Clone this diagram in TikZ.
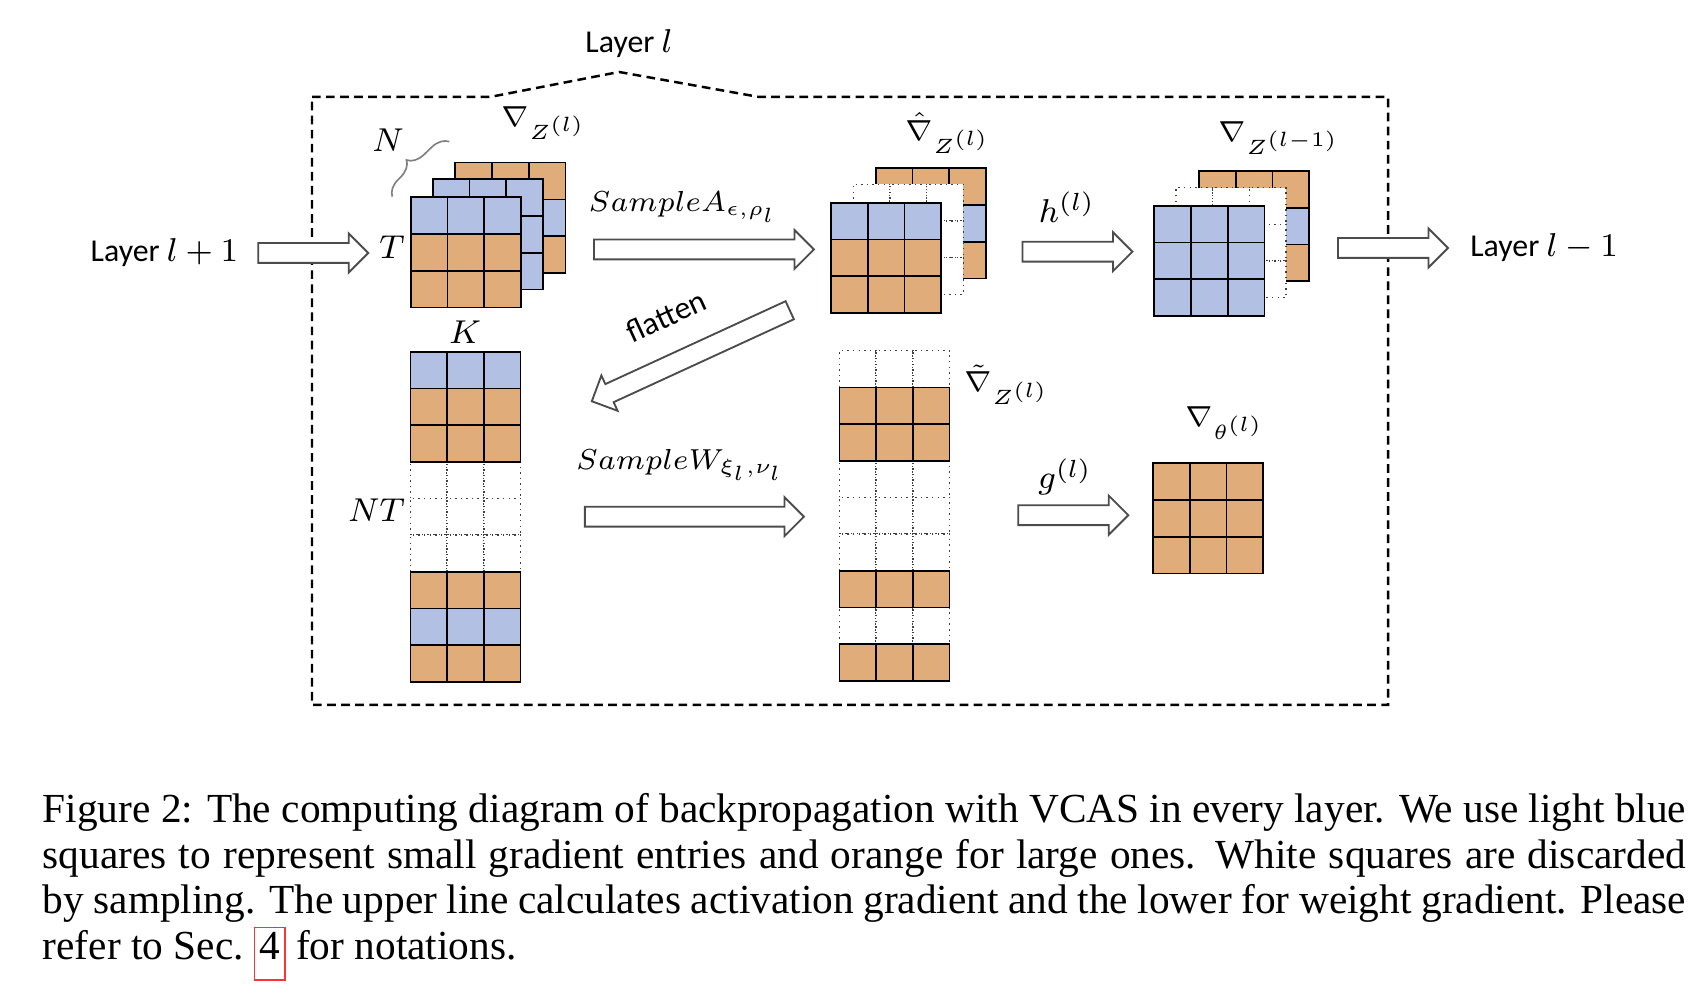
\documentclass[tikz,border=0pt]{standalone}
\usepackage{fontspec}
\setmainfont{Liberation Serif}
\newfontfamily\calibri{Carlito}
\usetikzlibrary{positioning, shapes.arrows, decorations.pathreplacing, calc}

\definecolor{smallblue}{RGB}{178,193,227}
\definecolor{largeorange}{RGB}{224,172,122}

\newcommand{\cw}{36.7}
% a grid three cells wide: name, north west corner, kind of each row
\newcommand{\cellgrid}[3]{%
  \coordinate (#1) at #2;
  \foreach \kind [count=\rowno] in {#3}
    \foreach \colno in {0,1,2}
      \path[cell\kind] ($(#1)+(\colno*\cw,-\rowno*\cw)$) rectangle ++(\cw,\cw);
  \foreach \kind [count=\rowno] in {#3}
    \foreach \colno in {0,1,2}
      \path[edge\kind] ($(#1)+(\colno*\cw,-\rowno*\cw)$) rectangle ++(\cw,\cw);
}
\newcommand{\secbox}[1]{{\fboxsep=1pt\fboxrule=0.35pt\fcolorbox{red!80}{white}{\rule[-3.8pt]{0pt}{6.5pt}#1}}}

\tikzset{
  cello/.style={fill=largeorange},
  cellb/.style={fill=smallblue},
  cellw/.style={fill=white, draw=black!75, densely dotted, line width=0.35pt},
  edgeo/.style={draw=black, line width=0.4pt},
  edgeb/.style={draw=black, line width=0.4pt},
  edgew/.style={}
}

\begin{document}
\begin{tikzpicture}[
    x=0.2419pt, y=0.2419pt,
    txt/.style={font=\calibri\fontsize{7.7}{9}\selectfont, inner sep=1pt},
    lbl/.style={font=\fontsize{8}{10}\selectfont, inner sep=1pt},
    grad/.style={font=\fontsize{7}{9}\selectfont, inner sep=0pt, anchor=west},
    fat/.style={single arrow, draw=black!70, fill=white, line width=0.45pt, inner xsep=0pt, inner ysep=2.18pt,
        single arrow head extend=2.3pt, minimum height=26.6pt},
    frame/.style={line width=0.6pt, dash pattern=on 2.1pt off 1.3pt},
    caption/.style={text width=397.5pt, align=justify, font=\fontsize{10}{11}\selectfont, inner sep=0pt}
]
\useasboundingbox (0,0) rectangle (1700,990);

% layer frame
\draw[frame] (312,893) -- (490,893) -- (619,918) -- (759,893) -- (1388,893) -- (1388,285) -- (312,285) -- cycle;
\node[txt] (layer) at (629,946) {Layer $l$};

% activation gradient stacks
\cellgrid{A3}{(455.3,827.3)}{o,b,o}
\cellgrid{A2}{(432.7,810.7)}{b,b,b}
\cellgrid{A1}{(410.7,792.7)}{b,o,o}
\cellgrid{B3}{(875.7,821.7)}{o,b,o}
\cellgrid{B2}{(853.3,805.7)}{w,w,w}
\cellgrid{B1}{(831,787.3)}{b,o,o}
\cellgrid{C3}{(1199,819)}{o,b,o}
\cellgrid{C2}{(1176,802.3)}{w,w,w}
\cellgrid{C1}{(1154.3,784.3)}{b,b,b}

% weight gradient
\cellgrid{D}{(410.5,638.3)}{b,o,o,w,w,w,o,b,o}
\cellgrid{E}{(839.5,639.3)}{w,o,o,w,w,w,o,w,o}
\cellgrid{F}{(1153,526.7)}{o,o,o}

% block arrows
\node[fat] (ain) at (308.3,737) {};
\node[fat, minimum height=53.2pt] (asa) at (699,740.5) {};
\node[fat] (ah) at (1072.5,738.3) {};
\node[fat] (aout) at (1388,742) {};
\node[fat, minimum height=52.7pt, rotate=204.7] (afl) at (695.3,636.3) {};
\node[fat, minimum height=53pt] (asw) at (689.4,473.3) {};
\node[fat] (ag) at (1068.3,474.8) {};

\node[txt, left=3.4pt of ain] (lin) {Layer $l+1$};
\node[txt, right=3.9pt of aout] (lout) {Layer $l-1$};

% labels
\coordinate (b1) at (392.3,793.3);
\coordinate (b2) at (449.3,848.3);
\draw[gray, line width=0.4pt, decorate, decoration={brace, amplitude=4pt, aspect=0.45}] (b1) -- (b2);
\node[lbl] (N) at (388,850) {$N$};
\node[lbl] (T) at (392,743) {$T$};
\node[lbl] (K) at (465,658) {$K$};
\node[lbl] (NT) at (376.5,480) {$NT$};
\node[grad] (gA) at (501,867) {$\nabla_{Z^{(l)}}$};
\node[grad] (gB) at (905,857) {$\hat{\nabla}_{Z^{(l)}}$};
\node[grad] (gC) at (1218,852) {$\nabla_{Z^{(l-1)}}$};
\node[grad] (gE) at (964,605) {$\tilde{\nabla}_{Z^{(l)}}$};
\node[grad] (gF) at (1185,567) {$\nabla_{\theta^{(l)}}$};
\node[lbl, font=\fontsize{7.5}{9}\selectfont] (sa) at (683,783) {$SampleA_{\epsilon,\rho_l}$};
\node[lbl] (h) at (1067,783) {$h^{(l)}$};
\node[txt, rotate=24.7] (fl) at (666,674) {flatten};
\node[lbl, font=\fontsize{7.5}{9}\selectfont] (sw) at (680,525) {$SampleW_{\xi_l,\nu_l}$};
\node[lbl] (g) at (1065,513) {$g^{(l)}$};

% caption
\node[caption, anchor=base west] (cap) at (42,167) {Figure 2: The computing diagram of backpropagation with VCAS in every layer. We use light blue\linebreak
squares to represent small gradient entries and orange for large ones. White squares are discarded\linebreak
by sampling. The upper line calculates activation gradient and the lower for weight gradient. Please\linebreak
refer to Sec.~\secbox{4} for notations.};
\end{tikzpicture}
\end{document}
